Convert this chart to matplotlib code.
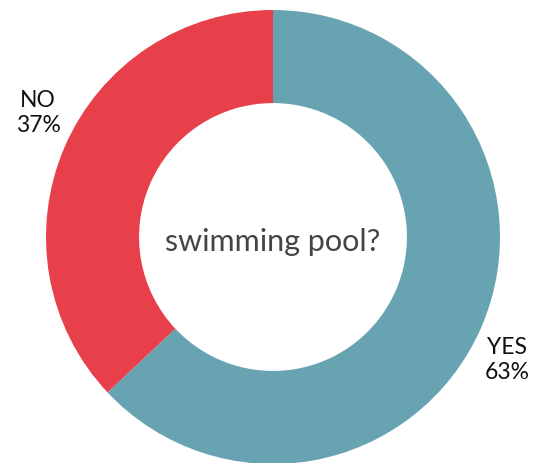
import matplotlib
matplotlib.use("Agg")
import matplotlib.pyplot as plt

plt.rcParams['font.family'] = ['Lato', 'DejaVu Sans']

labels = ['YES', 'NO']
values = [63, 37]
colors = ['#68a3b2', '#e8404a']
center_title = 'swimming pool?'

fig = plt.figure(figsize=(5.44, 4.63), dpi=100)
# axes box matches the donut's square bounding box
ax = fig.add_axes([46 / 544, -1 / 463, 454 / 544, 454 / 463])

wedges, _ = ax.pie(values, colors=colors, startangle=90, counterclock=False,
                   radius=1, wedgeprops=dict(width=0.41, linewidth=0))
ax.set_xlim(-1, 1)
ax.set_ylim(-1, 1)
ax.axis('off')

# outside labels
label_pos = [(1.031, -0.542), (-1.035, 0.546)]
for lab, v, (x, y) in zip(labels, values, label_pos):
    ax.text(x, y, f'{lab}\n{v}%', ha='center', va='center', fontsize=16.5,
            color='#111111', linespacing=1.2, clip_on=False)

ax.text(0, -0.02, center_title, ha='center', va='center', fontsize=22, color='#444444')

fig.savefig('out.png', dpi=100)
